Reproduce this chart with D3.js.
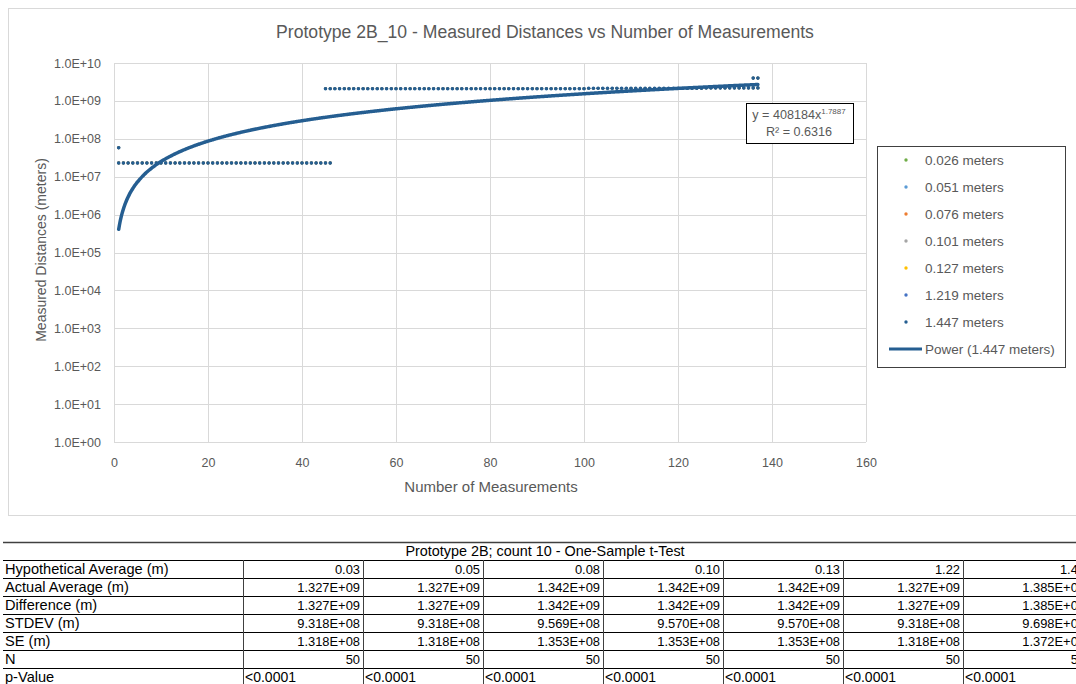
<!DOCTYPE html>
<html>
<head>
<meta charset="utf-8">
<script src="https://cdn.jsdelivr.net/npm/d3@7"></script>
<style>
  html, body { margin: 0; padding: 0; background: #ffffff; }
  svg { display: block; font-family: "Liberation Sans", Arial, sans-serif; }
</style>
</head>
<body>
<svg id="chart" width="1076" height="684"></svg>
<script>
// ---------------- DATA ----------------
const chartTitle = "Prototype 2B_10 - Measured Distances vs Number of Measurements";
const xAxisTitle = "Number of Measurements";
const yAxisTitle = "Measured Distances (meters)";

const seriesNames  = ["0.026 meters", "0.051 meters", "0.076 meters", "0.101 meters", "0.127 meters", "1.219 meters", "1.447 meters"];
const seriesColors = ["#70AD47", "#5B9BD5", "#ED7D31", "#A5A5A5", "#FFC000", "#4472C4", "#255E91"];

const lowRunX = [1,2,3,4,5,6,7,8,9,10,11,12,13,14,15,16,17,18,19,20,21,22,23,24,25,26,27,28,29,30,31,32,33,34,35,36,37,38,39,40,41,42,43,44,45,46];
const lowRunY = [2.3e7,2.3e7,2.3e7,2.3e7,2.3e7,2.3e7,2.3e7,2.3e7,2.3e7,2.3e7,2.3e7,2.3e7,2.3e7,2.3e7,2.3e7,2.3e7,2.3e7,2.3e7,2.3e7,2.3e7,2.3e7,2.3e7,2.3e7,2.3e7,2.3e7,2.3e7,2.3e7,2.3e7,2.3e7,2.3e7,2.3e7,2.3e7,2.3e7,2.3e7,2.3e7,2.3e7,2.3e7,2.3e7,2.3e7,2.3e7,2.3e7,2.3e7,2.3e7,2.3e7,2.3e7,2.3e7];
const highRunX = [45,46,47,48,49,50,51,52,53,54,55,56,57,58,59,60,61,62,63,64,65,66,67,68,69,70,71,72,73,74,75,76,77,78,79,80,81,82,83,84,85,86,87,88,89,90,91,92,93,94,95,96,97,98,99,100,101,102,103,104,105,106,107,108,109,110,111,112,113,114,115,116,117,118,119,120,121,122,123,124,125,126,127,128,129,130,131,132,133,134,135,136,137];
const highRunY = [2.1e9,2.1e9,2.1e9,2.1e9,2.1e9,2.1e9,2.1e9,2.1e9,2.1e9,2.1e9,2.1e9,2.1e9,2.1e9,2.1e9,2.1e9,2.1e9,2.1e9,2.1e9,2.1e9,2.1e9,2.1e9,2.1e9,2.1e9,2.1e9,2.1e9,2.1e9,2.1e9,2.1e9,2.1e9,2.1e9,2.1e9,2.1e9,2.1e9,2.1e9,2.1e9,2.1e9,2.1e9,2.1e9,2.1e9,2.1e9,2.1e9,2.1e9,2.1e9,2.1e9,2.1e9,2.1e9,2.1e9,2.1e9,2.1e9,2.1e9,2.1e9,2.1e9,2.1e9,2.1e9,2.1e9,2.1e9,2.15e9,2.15e9,2.15e9,2.15e9,2.15e9,2.15e9,2.15e9,2.15e9,2.15e9,2.15e9,2.15e9,2.15e9,2.15e9,2.15e9,2.15e9,2.15e9,2.15e9,2.15e9,2.15e9,2.15e9,2.15e9,2.15e9,2.15e9,2.15e9,2.15e9,2.2e9,2.2e9,2.2e9,2.2e9,2.2e9,2.2e9,2.2e9,2.2e9,2.2e9,2.2e9,2.2e9,2.2e9];
const outlierX = [1, 136, 137];
const outlierY = [5.8e7, 4.0e9, 4.0e9];

// trendline for 1.447 meters (power fit shown in the chart)
const trendCoefficient = 408184;
const trendExponent = 1.7887;
const trendRSquared = "0.6316";
const trendXRange = [1, 137];

const xTicks = [0, 20, 40, 60, 80, 100, 120, 140, 160];
const yTicks = [1e0, 1e1, 1e2, 1e3, 1e4, 1e5, 1e6, 1e7, 1e8, 1e9, 1e10];

// t-test table
const tableTitle = "Prototype 2B; count 10 - One-Sample t-Test";
const tableRowLabels = ["Hypothetical Average (m)", "Actual Average (m)", "Difference (m)", "STDEV (m)", "SE (m)", "N", "p-Value"];
const hypotheticalAverages = ["0.03", "0.05", "0.08", "0.10", "0.13", "1.22", "1.45"];
const actualAverages = ["1.327E+09", "1.327E+09", "1.342E+09", "1.342E+09", "1.342E+09", "1.327E+09", "1.385E+09"];
const differences    = ["1.327E+09", "1.327E+09", "1.342E+09", "1.342E+09", "1.342E+09", "1.327E+09", "1.385E+09"];
const stdevs         = ["9.318E+08", "9.318E+08", "9.569E+08", "9.570E+08", "9.570E+08", "9.318E+08", "9.698E+08"];
const standardErrors = ["1.318E+08", "1.318E+08", "1.353E+08", "1.353E+08", "1.353E+08", "1.318E+08", "1.372E+08"];
const sampleCounts   = ["50", "50", "50", "50", "50", "50", "50"];
const pValues        = ["<0.0001", "<0.0001", "<0.0001", "<0.0001", "<0.0001", "<0.0001", "<0.0001"];

// ---------------- DRAW ----------------
const svg = d3.select("#chart");
const textGray = "#595959";
const gridGray = "#d9d9d9";

svg.append("rect").attr("width", 1076).attr("height", 684).attr("fill", "#ffffff");

// chart frame
svg.append("rect").attr("x", 8.5).attr("y", 8.5).attr("width", 1090).attr("height", 507)
  .attr("fill", "none").attr("stroke", gridGray).attr("stroke-width", 1);

const x = d3.scaleLinear().domain([0, 160]).range([114, 866]);
const y = d3.scaleLog().domain([1, 1e10]).range([442, 63]);

// gridlines
svg.append("g").selectAll("line").data(yTicks).join("line")
  .attr("x1", x(0)).attr("x2", x(160))
  .attr("y1", d => Math.round(y(d)) + 0.5).attr("y2", d => Math.round(y(d)) + 0.5)
  .attr("stroke", gridGray).attr("stroke-width", 1);
svg.append("g").selectAll("line").data(xTicks).join("line")
  .attr("y1", y(1)).attr("y2", y(1e10))
  .attr("x1", d => Math.round(x(d)) + 0.5).attr("x2", d => Math.round(x(d)) + 0.5)
  .attr("stroke", gridGray).attr("stroke-width", 1);

// axes (labels only)
const fmtY = d => "1.0E+" + String(Math.round(Math.log10(d))).padStart(2, "0");
const yAxis = svg.append("g").attr("transform", `translate(${x(0)},0)`)
  .call(d3.axisLeft(y).tickValues(yTicks).tickFormat(fmtY).tickSize(0).tickPadding(13));
const xAxis = svg.append("g").attr("transform", `translate(0,${y(1)})`)
  .call(d3.axisBottom(x).tickValues(xTicks).tickFormat(d3.format("d")).tickSize(0).tickPadding(16));
[yAxis, xAxis].forEach(a => {
  a.select(".domain").remove();
  a.selectAll("text").attr("fill", textGray).style("font-size", "12.5px")
    .style("font-family", '"Liberation Sans", Arial, sans-serif');
});

// titles
svg.append("text").attr("x", 545).attr("y", 38).attr("text-anchor", "middle")
  .attr("fill", textGray).style("font-size", "17.6px").text(chartTitle);
svg.append("text").attr("x", 491).attr("y", 492).attr("text-anchor", "middle")
  .attr("fill", textGray).style("font-size", "15px").text(xAxisTitle);
svg.append("text").attr("transform", "translate(46,250) rotate(-90)").attr("text-anchor", "middle")
  .attr("fill", textGray).style("font-size", "14px").text(yAxisTitle);

// series points (all series share the same measured runs; later ones drawn on top)
const points = [];
lowRunX.forEach((v, i) => points.push([v, lowRunY[i]]));
highRunX.forEach((v, i) => points.push([v, highRunY[i]]));
outlierX.forEach((v, i) => points.push([v, outlierY[i]]));

const plot = svg.append("g");
seriesNames.forEach((name, si) => {
  plot.append("g").selectAll("circle").data(points).join("circle")
    .attr("cx", d => x(d[0])).attr("cy", d => y(d[1]))
    .attr("r", si === seriesNames.length - 1 ? 1.8 : 1.4)
    .attr("fill", seriesColors[si]);
});

// power trendline
const trendPts = d3.range(trendXRange[0], trendXRange[1] + 0.001, 0.25)
  .map(v => [v, trendCoefficient * Math.pow(v, trendExponent)]);
plot.append("path").datum(trendPts)
  .attr("d", d3.line().x(d => x(d[0])).y(d => y(d[1])).curve(d3.curveMonotoneX))
  .attr("fill", "none").attr("stroke", "#255E91").attr("stroke-width", 3.5)
  .attr("stroke-linecap", "round");

// trendline label
const lab = svg.append("g");
lab.append("rect").attr("x", 746.5).attr("y", 103.5).attr("width", 107).attr("height", 40)
  .attr("fill", "#ffffff").attr("stroke", "#000000").attr("stroke-width", 1);
const eq = lab.append("text").attr("x", 799).attr("y", 119).attr("text-anchor", "middle")
  .attr("fill", textGray).style("font-size", "12.6px");
eq.append("tspan").text(`y = ${trendCoefficient}x`);
eq.append("tspan").attr("dy", -5).style("font-size", "8px").text(trendExponent);
lab.append("text").attr("x", 799).attr("y", 136).attr("text-anchor", "middle")
  .attr("fill", textGray).style("font-size", "12.6px").text(`R² = ${trendRSquared}`);

// legend
const lg = svg.append("g");
lg.append("rect").attr("x", 877.5).attr("y", 146.5).attr("width", 188).attr("height", 221)
  .attr("fill", "#ffffff").attr("stroke", "#404040").attr("stroke-width", 1);
seriesNames.forEach((name, i) => {
  const cy = 160 + 27 * i;
  lg.append("circle").attr("cx", 906).attr("cy", cy).attr("r", 1.7).attr("fill", seriesColors[i]);
  lg.append("text").attr("x", 925).attr("y", cy).attr("dy", "0.35em")
    .attr("fill", textGray).style("font-size", "13.5px").text(name);
});
const ty = 160 + 27 * seriesNames.length;
lg.append("line").attr("x1", 889).attr("x2", 922).attr("y1", ty).attr("y2", ty)
  .attr("stroke", "#255E91").attr("stroke-width", 3);
lg.append("text").attr("x", 925).attr("y", ty).attr("dy", "0.35em")
  .attr("fill", textGray).style("font-size", "13.5px").text(`Power (${seriesNames[6]})`);

// ---------------- TABLE ----------------
const tbl = svg.append("g").attr("fill", "#000000");
const colEdges = [3, 243, 363, 483, 603, 723, 843, 963, 1088];
const rowTop = 560, rowH = 18;
const tableRows = [hypotheticalAverages, actualAverages, differences, stdevs, standardErrors, sampleCounts, pValues];

tbl.append("line").attr("x1", 3).attr("x2", 1076).attr("y1", 542.5).attr("y2", 542.5)
  .attr("stroke", "#404040").attr("stroke-width", 1.5);
tbl.append("text").attr("x", 545).attr("y", 556).attr("text-anchor", "middle")
  .style("font-size", "14.4px").text(tableTitle);

tableRowLabels.forEach((lbl, r) => {
  const top = rowTop + r * rowH;
  tbl.append("line").attr("x1", 3).attr("x2", 1088).attr("y1", top + 0.5).attr("y2", top + 0.5)
    .attr("stroke", "#000000").attr("stroke-width", 1);
  tbl.append("text").attr("x", 5).attr("y", top + 14).style("font-size", "14.6px").text(lbl);
  tableRows[r].forEach((val, c) => {
    const left = colEdges[c + 1], right = colEdges[c + 2];
    const isText = val.startsWith("<");
    tbl.append("text")
      .attr("x", isText ? left + 2 : right - 3)
      .attr("y", top + 14)
      .attr("text-anchor", isText ? "start" : "end")
      .style("font-size", isText ? "14px" : "12.9px")
      .text(val);
  });
});
tbl.append("line").attr("x1", 3).attr("x2", 1088)
  .attr("y1", rowTop + tableRowLabels.length * rowH + 0.5).attr("y2", rowTop + tableRowLabels.length * rowH + 0.5)
  .attr("stroke", "#000000");
colEdges.slice(1).forEach(cx => {
  tbl.append("line").attr("x1", cx + 0.5).attr("x2", cx + 0.5)
    .attr("y1", rowTop).attr("y2", rowTop + tableRowLabels.length * rowH)
    .attr("stroke", "#404040").attr("stroke-width", 1);
});
</script>
</body>
</html>
